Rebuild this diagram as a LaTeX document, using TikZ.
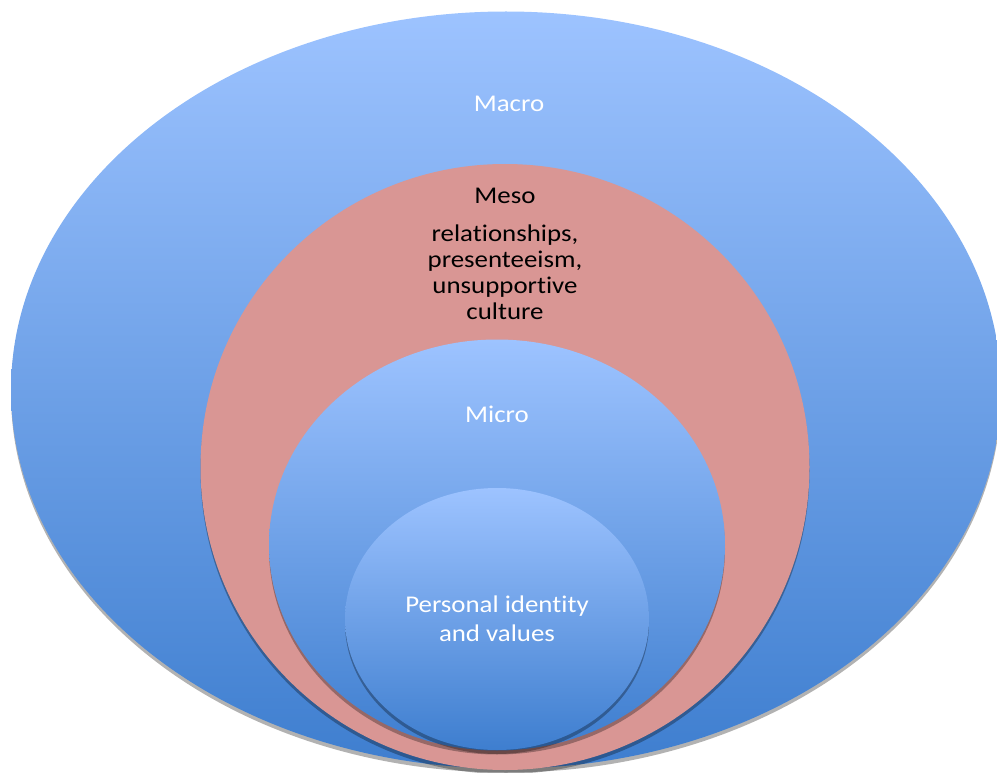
\documentclass[tikz,border=0pt]{standalone}
\usepackage{fontspec}
\setmainfont{Carlito}[Ligatures={NoCommon}]
\usetikzlibrary{shapes.geometric,shadows}
\definecolor{bluetop}{RGB}{157,195,255}
\definecolor{bluebot}{RGB}{62,126,207}
\definecolor{mesopink}{RGB}{217,150,148}
\tikzset{
  ring/.style={ellipse, inner sep=0pt, outer sep=0pt,
    drop shadow={shadow xshift=0pt, shadow yshift=-4pt, opacity=0.3, fill=black}},
  bluering/.style={ring, top color=bluetop, bottom color=bluebot},
  pinkring/.style={ring, fill=mesopink},
  lab/.style={font=\fontsize{24}{26}\selectfont, align=center, inner sep=0pt, xscale=1.12},
  whitelab/.style={lab, text=white},
  blacklab/.style={lab, text=black}
}
\begin{document}
\begin{tikzpicture}[x=1pt,y=-1pt]
\useasboundingbox (0,0) rectangle (997,773);
\clip (0,0) rectangle (997,773);
\node[bluering, minimum width=990, minimum height=757] (macro) at (506,390) {};
\node[pinkring, minimum width=609, minimum height=606] (meso) at (505,467) {};
\node[bluering, minimum width=456, minimum height=411] (micro) at (497,545) {};
\node[bluering, minimum width=304, minimum height=262] (personal) at (497,619) {};
\node[whitelab] (macrolab) at (509,104) {Macro};
\node[blacklab] (mesolab) at (505,196) {Meso};
\node[blacklab] (mesotext) at (505,272) {relationships,\\presenteeism,\\unsupportive\\culture};
\node[whitelab] (microlab) at (497,414) {Micro};
\node[whitelab, font=\fontsize{24}{29}\selectfont] (personallab) at (497,619) {Personal identity\\and values};
\end{tikzpicture}
\end{document}
